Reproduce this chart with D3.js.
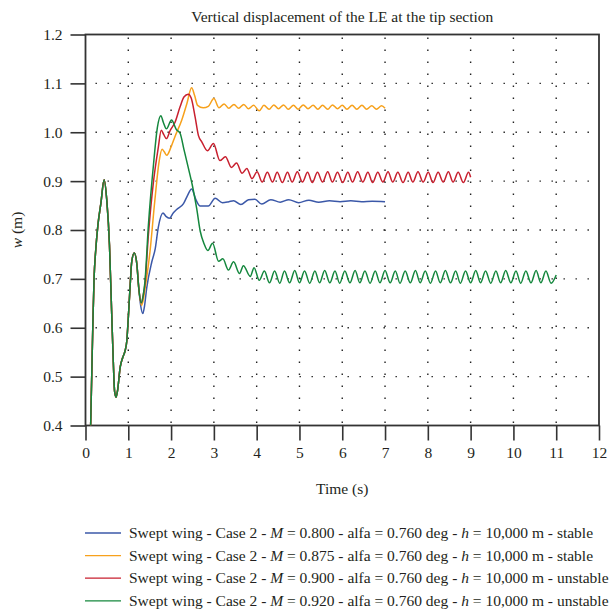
<!DOCTYPE html>
<html>
<head>
<meta charset="utf-8">
<script src="https://cdn.jsdelivr.net/npm/d3@7"></script>
<style>
  html, body { margin: 0; padding: 0; background: #ffffff; }
  svg text { font-family: "Liberation Serif", "Times New Roman", serif; fill: #231f20; }
</style>
</head>
<body>
<div id="chart"></div>
<script>
// tick values on both axes
const xTicks = [0, 1, 2, 3, 4, 5, 6, 7, 8, 9, 10, 11, 12];
const yTicks = [0.4, 0.5, 0.6, 0.7, 0.8, 0.9, 1.0, 1.1, 1.2];

// legend pieces
const machNumbers = ["0.800", "0.875", "0.900", "0.920"];
const stability = ["stable", "stable", "unstable", "unstable"];
const lineColors = ["#3b58a8", "#f7a11c", "#c8202f", "#14873d"];

// all four runs share the first oscillation
const commonStart = [
    [0.12, 0.40], [0.17, 0.60], [0.20, 0.70], [0.24, 0.76], [0.29, 0.81], [0.36, 0.855],
    [0.435, 0.903], [0.50, 0.858], [0.56, 0.77], [0.61, 0.635], [0.65, 0.53], [0.68, 0.47],
    [0.715, 0.458], [0.75, 0.472], [0.81, 0.519], [0.87, 0.539], [0.925, 0.553], [0.965, 0.573],
    [1.00, 0.62], [1.04, 0.681], [1.08, 0.735], [1.14, 0.753], [1.20, 0.73], [1.245, 0.681]
];

// M = 0.800
const blueTail = [
    [1.29, 0.645], [1.34, 0.629], [1.38, 0.645], [1.43, 0.681], [1.55, 0.735], [1.63, 0.762],
    [1.70, 0.805], [1.81, 0.835], [1.88, 0.828], [1.96, 0.824], [2.05, 0.835], [2.13, 0.842],
    [2.29, 0.854], [2.38, 0.870], [2.48, 0.884], [2.58, 0.862], [2.68, 0.849], [2.87, 0.849],
    [3.03, 0.865], [3.20, 0.856], [3.35, 0.858], [3.46, 0.860], [3.63, 0.852], [3.81, 0.862],
    [3.96, 0.863], [4.12, 0.853], [4.33, 0.862], [4.55, 0.857], [4.75, 0.862], [4.98, 0.856],
    [5.22, 0.861], [5.45, 0.857], [5.70, 0.860], [5.95, 0.858], [6.20, 0.860], [6.45, 0.858],
    [6.70, 0.859], [7.00, 0.858]
];

// M = 0.875
const orangeTail = [
    [1.31, 0.646], [1.36, 0.662], [1.40, 0.685], [1.50, 0.75], [1.62, 0.86], [1.72, 0.94],
    [1.79, 0.965], [1.84, 0.960], [1.90, 0.953], [2.00, 0.970], [2.09, 0.991], [2.25, 1.025],
    [2.37, 1.059], [2.48, 1.091], [2.55, 1.075], [2.62, 1.055], [2.75, 1.050], [2.87, 1.053],
    [3.00, 1.069], [3.12, 1.050], [3.24, 1.058], [3.35, 1.049], [3.47, 1.057], [3.58, 1.049],
    [3.70, 1.057], [3.81, 1.048], [3.93, 1.055], [4.06, 1.044], [4.17, 1.055], [4.29, 1.047],
    [4.40, 1.056], [4.51, 1.048], [4.63, 1.056], [4.74, 1.047], [4.86, 1.055], [4.97, 1.047],
    [5.09, 1.056], [5.20, 1.048], [5.32, 1.055], [5.43, 1.047], [5.54, 1.055], [5.66, 1.047],
    [5.77, 1.056], [5.89, 1.048], [6.00, 1.055], [6.11, 1.047], [6.23, 1.055], [6.34, 1.047],
    [6.46, 1.055], [6.57, 1.047], [6.69, 1.054], [6.80, 1.047], [6.92, 1.054], [7.00, 1.049]
];

// M = 0.900
const redTail = [
    [1.30, 0.651], [1.35, 0.667], [1.39, 0.69], [1.47, 0.79], [1.59, 0.90], [1.70, 0.968],
    [1.77, 1.004], [1.83, 0.995], [1.89, 0.987], [1.98, 1.004], [2.09, 1.020], [2.21, 1.052],
    [2.30, 1.072], [2.40, 1.078], [2.47, 1.070], [2.56, 1.032], [2.64, 0.993], [2.72, 0.980],
    [2.85, 0.962], [2.99, 0.977], [3.14, 0.942], [3.27, 0.950], [3.41, 0.928], [3.53, 0.937],
    [3.66, 0.916], [3.77, 0.926], [3.89, 0.905], [4.01, 0.919], [4.13, 0.898],
    [4.25, 0.918], [4.37, 0.898], [4.48, 0.918], [4.60, 0.897], [4.72, 0.918], [4.83, 0.898],
    [4.95, 0.919], [5.07, 0.898], [5.19, 0.918], [5.30, 0.897], [5.42, 0.918], [5.54, 0.898],
    [5.66, 0.919], [5.77, 0.898], [5.89, 0.918], [6.01, 0.897], [6.13, 0.918], [6.24, 0.898],
    [6.36, 0.919], [6.48, 0.898], [6.60, 0.918], [6.71, 0.897], [6.83, 0.918], [6.95, 0.898],
    [7.07, 0.919], [7.18, 0.898], [7.30, 0.918], [7.42, 0.897], [7.54, 0.918], [7.65, 0.898],
    [7.77, 0.919], [7.89, 0.898], [8.01, 0.918], [8.12, 0.897], [8.24, 0.918], [8.36, 0.898],
    [8.48, 0.919], [8.59, 0.898], [8.71, 0.918], [8.83, 0.897], [8.95, 0.918], [9.00, 0.908]
];

// M = 0.920
const greenTail = [
    [1.30, 0.651], [1.35, 0.667], [1.39, 0.695], [1.47, 0.81], [1.59, 0.935], [1.68, 1.01],
    [1.76, 1.034], [1.82, 1.02], [1.89, 1.007], [2.01, 1.025], [2.12, 1.006], [2.21, 0.998],
    [2.30, 0.965], [2.40, 0.928], [2.50, 0.89], [2.60, 0.843], [2.68, 0.798], [2.77, 0.772],
    [2.86, 0.758], [2.97, 0.773], [3.11, 0.736], [3.21, 0.741], [3.34, 0.718], [3.46, 0.735],
    [3.60, 0.711], [3.69, 0.727], [3.85, 0.705], [3.94, 0.723], [4.06, 0.697],
    [4.18, 0.716], [4.30, 0.692], [4.42, 0.716], [4.54, 0.691], [4.65, 0.716], [4.77, 0.692],
    [4.89, 0.717], [5.00, 0.692], [5.12, 0.716], [5.24, 0.691], [5.36, 0.716], [5.47, 0.692],
    [5.59, 0.717], [5.71, 0.692], [5.83, 0.716], [5.94, 0.691], [6.06, 0.716], [6.18, 0.692],
    [6.30, 0.717], [6.41, 0.692], [6.53, 0.716], [6.65, 0.691], [6.77, 0.716], [6.88, 0.692],
    [7.00, 0.717], [7.12, 0.692], [7.24, 0.716], [7.35, 0.691], [7.47, 0.716], [7.59, 0.692],
    [7.71, 0.717], [7.82, 0.692], [7.94, 0.716], [8.06, 0.691], [8.18, 0.716], [8.29, 0.692],
    [8.41, 0.717], [8.53, 0.692], [8.65, 0.716], [8.76, 0.691], [8.88, 0.716], [9.00, 0.692],
    [9.12, 0.717], [9.23, 0.692], [9.35, 0.716], [9.47, 0.691], [9.59, 0.716], [9.70, 0.692],
    [9.82, 0.717], [9.94, 0.692], [10.06, 0.716], [10.17, 0.691], [10.29, 0.716], [10.41, 0.692],
    [10.53, 0.717], [10.64, 0.692], [10.76, 0.716], [10.88, 0.691], [11.00, 0.708]
];

const width = 611;
const height = 611;
const plot = {left: 85.5, right: 599, top: 34.5, bottom: 425.5};
const axisColor = "#333333";
const fontSize = "15.5px";

function drawChart() {
    const svg = d3.select("#chart").append("svg")
        .attr("width", width)
        .attr("height", height);

    const x = d3.scaleLinear().domain([0, 12]).range([plot.left, plot.right]);
    const y = d3.scaleLinear().domain([0.4, 1.2]).range([plot.bottom, plot.top]);

    // title
    svg.append("text")
        .attr("x", (plot.left + plot.right) / 2)
        .attr("y", 22)
        .attr("text-anchor", "middle")
        .style("font-size", fontSize)
        .text("Vertical displacement of the LE at the tip section");

    // dotted grid
    const grid = svg.append("g").attr("class", "grid");
    grid.selectAll(".vgrid")
        .data(xTicks.slice(1, -1))
        .enter().append("line")
        .attr("x1", d => x(d)).attr("x2", d => x(d))
        .attr("y1", plot.top + 3).attr("y2", plot.bottom)
        .style("stroke", "#222")
        .style("stroke-width", 1.4)
        .style("stroke-dasharray", "1.4,10.6");
    grid.selectAll(".hgrid")
        .data(yTicks.slice(1, -1))
        .enter().append("line")
        .attr("x1", plot.left + 10).attr("x2", plot.right - 4)
        .attr("y1", d => y(d)).attr("y2", d => y(d))
        .style("stroke", "#222")
        .style("stroke-width", 1.4)
        .style("stroke-dasharray", "1.4,10.6");

    // axes with outward ticks
    const xAxis = d3.axisBottom(x).tickValues(xTicks).tickSize(15).tickPadding(6)
        .tickFormat(d3.format("d"));
    const yAxis = d3.axisLeft(y).tickValues(yTicks).tickSize(15).tickPadding(8)
        .tickFormat(d3.format(".1f"));

    const gx = svg.append("g")
        .attr("transform", `translate(0,${plot.bottom})`)
        .call(xAxis);
    const gy = svg.append("g")
        .attr("transform", `translate(${plot.left},0)`)
        .call(yAxis);

    [gx, gy].forEach(g => {
        g.select(".domain").remove();
        g.selectAll(".tick line").style("stroke", axisColor).style("stroke-width", 1.6);
        g.selectAll(".tick text")
            .style("font-size", fontSize)
            .style("font-family", "'Liberation Serif', serif")
            .style("fill", "#231f20");
    });

    // frame around the plot
    svg.append("rect")
        .attr("x", plot.left).attr("y", plot.top)
        .attr("width", plot.right - plot.left)
        .attr("height", plot.bottom - plot.top)
        .style("fill", "none")
        .style("stroke", axisColor)
        .style("stroke-width", 1.8);

    // axis titles
    svg.append("text")
        .attr("x", (plot.left + plot.right) / 2)
        .attr("y", 494)
        .attr("text-anchor", "middle")
        .style("font-size", fontSize)
        .text("Time (s)");

    const yl = svg.append("text")
        .attr("transform", "translate(22,230) rotate(-90)")
        .attr("text-anchor", "middle")
        .style("font-size", fontSize);
    yl.append("tspan").style("font-style", "italic").text("w");
    yl.append("tspan").text(" (m)");

    // curves
    svg.append("clipPath").attr("id", "plotClip")
        .append("rect")
        .attr("x", plot.left).attr("y", plot.top)
        .attr("width", plot.right - plot.left)
        .attr("height", plot.bottom - plot.top);

    const line = d3.line()
        .x(d => x(d[0]))
        .y(d => y(d[1]))
        .curve(d3.curveMonotoneX);

    const series = [
        commonStart.concat(blueTail),
        commonStart.concat(orangeTail),
        commonStart.concat(redTail),
        commonStart.concat(greenTail)
    ];

    svg.append("g").attr("clip-path", "url(#plotClip)")
        .selectAll("path")
        .data(series)
        .enter().append("path")
        .attr("d", line)
        .style("fill", "none")
        .style("stroke", (d, i) => lineColors[i])
        .style("stroke-width", 1.5);

    // legend
    const legend = svg.append("g");
    machNumbers.forEach((m, i) => {
        const rowY = 533 + i * 22.6;
        legend.append("line")
            .attr("x1", 85).attr("x2", 121)
            .attr("y1", rowY).attr("y2", rowY)
            .style("stroke", lineColors[i])
            .style("stroke-width", 1.3);
        const t = legend.append("text")
            .attr("x", 129)
            .attr("y", rowY + 5)
            .style("font-size", fontSize);
        t.append("tspan").text("Swept wing - Case 2 - ");
        t.append("tspan").style("font-style", "italic").text("M");
        t.append("tspan").text(` = ${m} - alfa = 0.760 deg - `);
        t.append("tspan").style("font-style", "italic").text("h");
        t.append("tspan").text(` = 10,000 m - ${stability[i]}`);
    });
}

drawChart();
</script>
</body>
</html>
